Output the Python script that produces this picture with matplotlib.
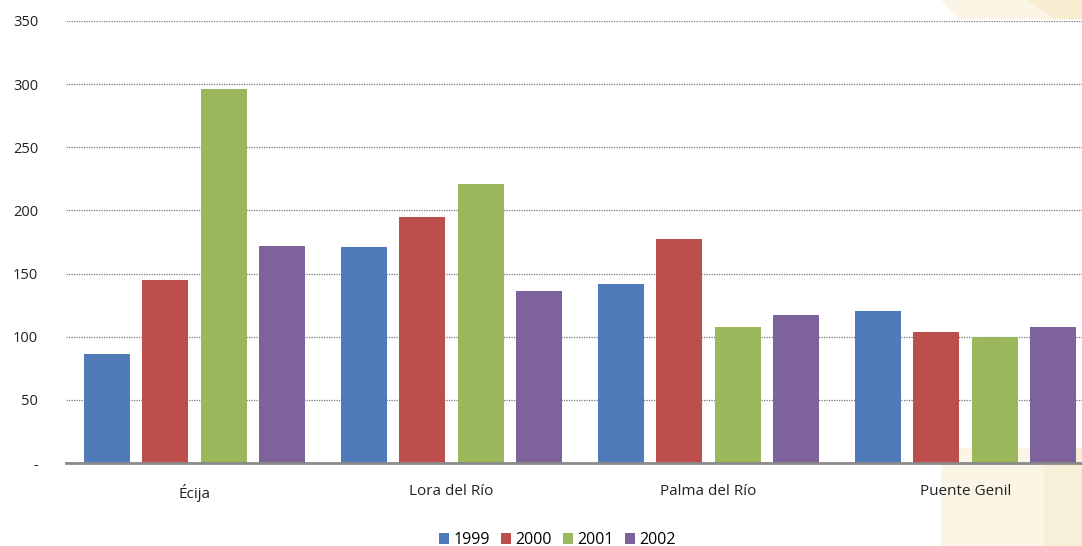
import matplotlib
matplotlib.use('Agg')
import matplotlib.pyplot as plt
import numpy as np
from matplotlib.patches import Polygon

plt.rcParams['font.family'] = ['Open Sans', 'DejaVu Sans']

# data
towns = ['Écija', 'Lora del Río', 'Palma del Río', 'Puente Genil']
years = ['1999', '2000', '2001', '2002']
v1999 = [86, 171, 142, 120]
v2000 = [145, 195, 177, 104]
v2001 = [296, 221, 108, 100]
v2002 = [172, 136, 117, 108]
colors = ['#4f7cb8', '#bc4f4c', '#9bb75c', '#7d629c']
yticks = [0, 50, 100, 150, 200, 250, 300, 350]
ylabels = ['-', '50', '100', '150', '200', '250', '300', '350']

fig = plt.figure(figsize=(10.82, 5.46), dpi=100)

# faint beige decoration in the right corners
for pts, col in [([(0.87, 1.0), (0.885, 0.965), (1.0, 0.965), (1.0, 1.0)], '#fbf5e6'),
                 ([(0.95, 1.0), (0.975, 0.965), (1.0, 0.965), (1.0, 1.0)], '#f7ecd0'),
                 ([(0.87, 0.18), (1.0, 0.18), (1.0, 0.0), (0.87, 0.0)], '#fbf5e6'),
                 ([(0.965, 0.18), (1.0, 0.18), (1.0, 0.0), (0.965, 0.0)], '#f8efd8')]:
    fig.patches.append(Polygon(pts, closed=True, transform=fig.transFigure,
                               facecolor=col, edgecolor='none', zorder=-5))

ax = fig.add_axes([66 / 1082, 1 - 463 / 546, 1028 / 1082, (463 - 21) / 546])
ax.patch.set_alpha(0)
ax.set_zorder(1)

x = np.arange(len(towns))
width = 0.179
step = 0.227
series = [v1999, v2000, v2001, v2002]
for i, (vals, c, yr) in enumerate(zip(series, colors, years)):
    ax.bar(x + (i - 1.5) * step, vals, width, color=c, label=yr, zorder=3)

ax.set_xlim(-0.5, len(towns) - 0.5)
ax.set_ylim(0, 350)
ax.set_yticks(yticks)
ax.set_yticklabels(ylabels)
ax.set_xticks(x)
ax.set_xticklabels(towns)
ax.tick_params(axis='both', length=0, labelsize=10.5, colors='#222222')
ax.tick_params(axis='x', labelsize=11, pad=15)
ax.tick_params(axis='y', pad=20)
ax.yaxis.grid(True, linestyle=(0, (1, 1)), color='#777777', linewidth=0.9, zorder=0)
for s in ['top', 'right', 'left']:
    ax.spines[s].set_visible(False)
ax.spines['bottom'].set_color('#8a8a8a')
ax.spines['bottom'].set_linewidth(2)
ax.spines['bottom'].set_zorder(4)

fig.legend(loc='lower center', bbox_to_anchor=(0.515, -0.03), ncol=4, frameon=False,
           fontsize=11.5, handlelength=0.65, handleheight=0.65, handletextpad=0.25,
           columnspacing=0.7)

fig.savefig('out.png', dpi=100)
